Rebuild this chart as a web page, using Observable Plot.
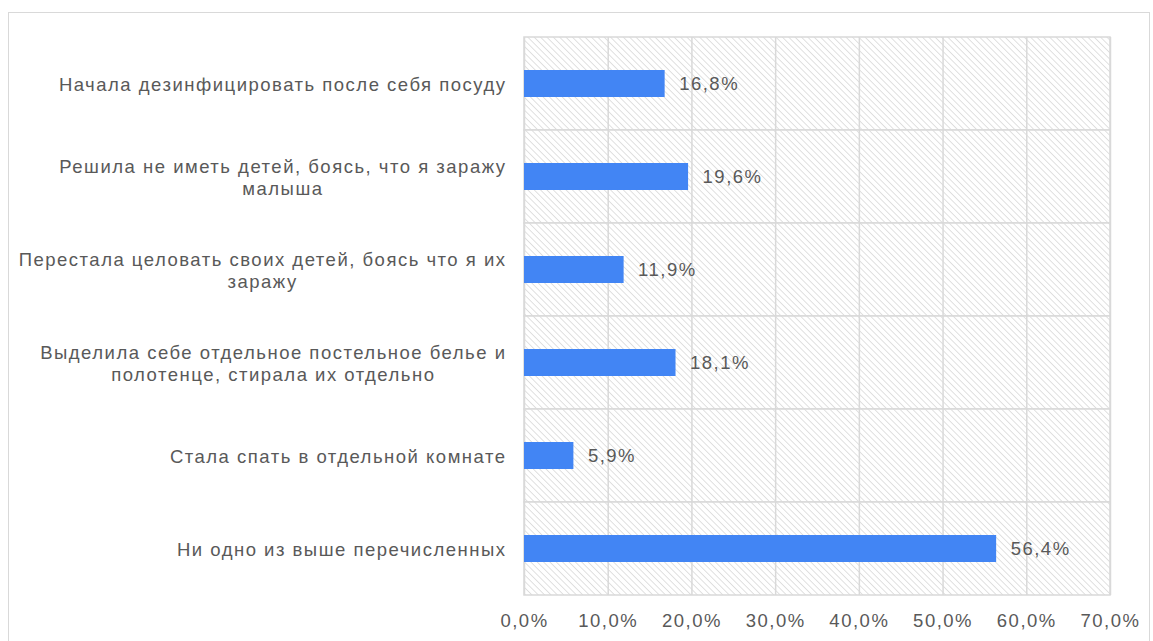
<!DOCTYPE html>
<html><head><meta charset="utf-8">
<script src="https://cdn.jsdelivr.net/npm/d3@7"></script>
<script src="https://cdn.jsdelivr.net/npm/@observablehq/plot@0.6"></script>
<style>
html,body{margin:0;padding:0;background:#fff;overflow:hidden;}
#frame{position:absolute;left:8px;top:12px;width:1142px;height:700px;border:1.5px solid #d9d9d9;box-sizing:border-box;}
#chart{position:absolute;left:0;top:0;}
</style></head><body>
<div id="frame"></div>
<div id="chart"></div>
<script>
const categories = [
  "Начала дезинфицировать после себя посуду",
  "Решила не иметь детей, боясь, что я заражу\nмалыша",
  "Перестала целовать своих детей, боясь что я их\nзаражу",
  "Выделила себе отдельное постельное белье и\nполотенце, стирала их отдельно",
  "Стала спать в отдельной комнате",
  "Ни одно из выше перечисленных"
];
const values = [16.8, 19.6, 11.9, 18.1, 5.9, 56.4];
const xTicks = [0, 10, 20, 30, 40, 50, 60, 70];

const data = categories.map((c, i) => ({category: c, value: values[i]}));
const fmt = v => v.toFixed(1).replace(".", ",") + "%";
const textColor = "#595959";
const font = "Liberation Sans, Arial, sans-serif";

const plot = Plot.plot({
  width: 1153,
  height: 641,
  marginLeft: 524,
  marginRight: 43,
  marginTop: 37,
  marginBottom: 46,
  style: {fontFamily: font, color: textColor, background: "transparent", letterSpacing: "1.5px"},
  x: {domain: [0, 70]},
  y: {domain: categories, padding: 0},
  marks: [
    Plot.barX(categories, {y: d => d, x1: 0, x2: 70, fill: "url(#hatch)", stroke: "#d9d9d9", strokeWidth: 1.5}),
    Plot.ruleX(xTicks, {x: d => d, stroke: "#d9d9d9", strokeWidth: 1.5}),
    Plot.barX(data, {y: "category", x: "value", fill: "#4285f4", insetTop: 33, insetBottom: 33}),
    Plot.text(data, {y: "category", x: "value", text: d => fmt(d.value), textAnchor: "start", dx: 14, fontSize: 18.5, fill: textColor}),
    Plot.axisX(xTicks, {tickSize: 0, tickPadding: 18, tickFormat: fmt, fontSize: 18.5, label: null, fill: textColor}),
    Plot.axisY({tickSize: 0, tickPadding: 18, fontSize: 18.5, label: null, lineHeight: 1.19, fill: textColor, textAnchor: "end"})
  ]
});

const defs = d3.create("svg:defs");
const pat = defs.append("pattern").attr("id", "hatch").attr("patternUnits", "userSpaceOnUse")
  .attr("width", 4.5).attr("height", 4.5).attr("patternTransform", "rotate(-45)");
pat.append("rect").attr("width", 4.5).attr("height", 4.5).attr("fill", "#ffffff");
pat.append("line").attr("x1", 0).attr("y1", 0).attr("x2", 0).attr("y2", 4.5)
  .attr("stroke", "#cccccc").attr("stroke-width", 1.2);
plot.insertBefore(defs.node(), plot.firstChild);

document.getElementById("chart").appendChild(plot);

// center multi-line y labels within their right-aligned block
d3.select(plot).selectAll("g[aria-label='y-axis tick label'] text").each(function() {
  const t = d3.select(this);
  if (this.querySelectorAll("tspan").length > 1) {
    const bb = this.getBBox();
    const cx = bb.x + bb.width / 2;
    t.attr("text-anchor", "middle");
    t.selectAll("tspan").attr("x", cx);
  }
});
</script>
</body></html>
